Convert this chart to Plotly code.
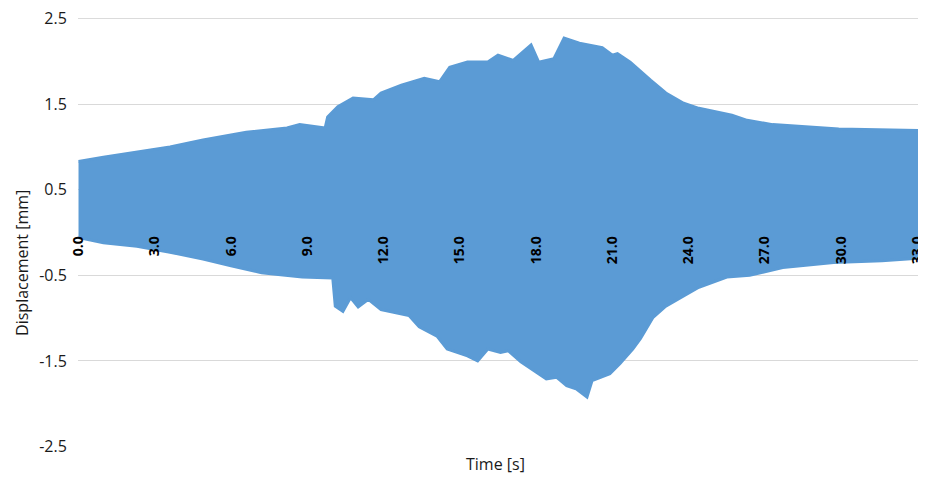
import plotly.graph_objects as go

# Upper envelope of the displacement signal (time [s], displacement [mm])
t_upper = [0, 0.98, 3.6, 4.9, 6.6, 8.2, 8.7, 9.5, 9.7, 9.8, 10.2, 10.8, 11.6, 11.9, 12.7, 13.6,
           14.2, 14.6, 15.3, 16.1, 16.5, 17.1, 17.8, 18.1, 18.7, 19.1, 19.7, 20.6, 21.0, 21.2,
           21.7, 22.5, 23.1, 23.8, 24.4, 25.7, 26.3, 27.3, 29.0, 29.9, 33.0]
d_upper = [0.83, 0.88, 1.00, 1.08, 1.17, 1.22, 1.26, 1.23, 1.22, 1.35, 1.47, 1.57, 1.55, 1.63,
           1.72, 1.80, 1.76, 1.93, 1.99, 1.99, 2.07, 2.01, 2.19, 1.99, 2.03, 2.27, 2.21, 2.16,
           2.07, 2.09, 1.99, 1.78, 1.63, 1.51, 1.45, 1.37, 1.31, 1.26, 1.23, 1.21, 1.19]

# Lower envelope
t_lower = [0, 0.98, 2.3, 3.6, 4.9, 6.0, 7.2, 7.8, 8.8, 10.0, 10.1, 10.4, 10.7, 11.0, 11.4, 11.9,
           12.7, 13.0, 13.4, 14.1, 14.5, 15.3, 15.7, 16.1, 16.6, 16.9, 17.4, 18.0, 18.4, 18.8,
           19.2, 19.6, 20.0, 20.2, 20.9, 21.3, 21.8, 22.1, 22.6, 23.1, 23.8, 24.4, 25.5, 26.4,
           27.7, 29.7, 31.6, 33.0]
d_lower = [-0.06, -0.12, -0.16, -0.23, -0.31, -0.39, -0.47, -0.49, -0.52, -0.53, -0.86, -0.92,
           -0.76, -0.87, -0.78, -0.90, -0.95, -0.97, -1.10, -1.21, -1.36, -1.44, -1.50, -1.36,
           -1.40, -1.38, -1.51, -1.63, -1.71, -1.69, -1.79, -1.83, -1.92, -1.73, -1.65, -1.53,
           -1.36, -1.24, -0.99, -0.86, -0.74, -0.64, -0.52, -0.50, -0.41, -0.35, -0.33, -0.30]

x_ticks = [0, 3, 6, 9, 12, 15, 18, 21, 24, 27, 30, 33]
x_ticktext = [f"{v:.1f}" for v in x_ticks]
y_ticks = [-2.5, -1.5, -0.5, 0.5, 1.5, 2.5]
y_ticktext = ["-2.5", "-1.5", "-0.5", "0.5", "1.5", "2.5"]

blue = "#5B9BD5"
grid = "#D9D9D9"

fig = go.Figure()
fig.add_trace(go.Scatter(
    x=t_upper + t_lower[::-1],
    y=d_upper + d_lower[::-1],
    mode="lines",
    fill="toself",
    fillcolor=blue,
    line=dict(color=blue, width=3),
    hoverinfo="skip",
    showlegend=False,
))

# explicit gridline at the top tick (plotly drops the one on the plot edge)
fig.add_hline(y=y_ticks[-1], line=dict(color=grid, width=1), layer="below")

# the page body adds an 8px offset, so the figure is sized 8px smaller
fig.update_layout(
    width=918, height=469,
    margin=dict(l=70, r=8, t=10, b=30, autoexpand=False),
    paper_bgcolor="white", plot_bgcolor="white",
    font=dict(family="Open Sans, DejaVu Sans, sans-serif", color="#1a1a1a"),
    xaxis=dict(
        range=[-0.02, 33.02], anchor="free", position=0.5,
        tickvals=x_ticks, ticktext=x_ticktext, tickangle=-90,
        tickfont=dict(size=14, color="#000000", family="Open Sans, sans-serif", weight="bold"),
        showgrid=False, zeroline=False, showline=False, ticks="",
        ticklabeloverflow="allow",
    ),
    yaxis=dict(
        range=[-2.505, 2.505], tickvals=y_ticks, ticktext=y_ticktext,
        tickfont=dict(size=16, color="#1a1a1a"),
        showgrid=True, gridcolor=grid, gridwidth=1,
        zeroline=False, showline=False,
        ticks="outside", ticklen=7, tickcolor="rgba(0,0,0,0)",
        ticklabeloverflow="allow",
    ),
    annotations=[
        dict(text="Displacement [mm]", xref="paper", yref="paper", x=-0.0667, y=0.429,
             textangle=-90, showarrow=False, font=dict(size=16, color="#1a1a1a"),
             xanchor="center", yanchor="middle"),
        dict(text="Time [s]", xref="paper", yref="paper", x=0.4976, y=-0.0396,
             showarrow=False, font=dict(size=16, color="#1a1a1a"),
             xanchor="center", yanchor="middle"),
    ],
)

fig.write_html("out.html")
